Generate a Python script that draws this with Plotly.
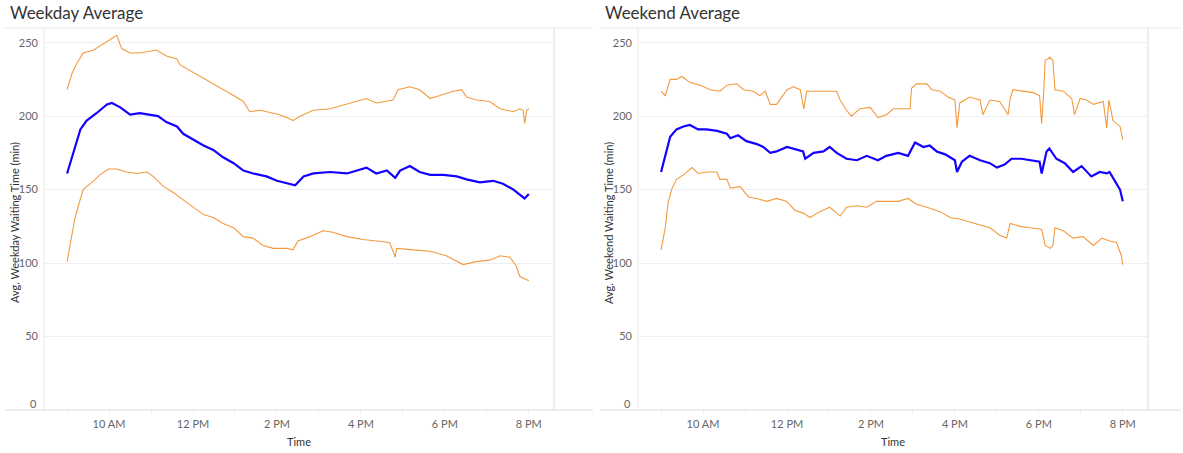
import plotly.graph_objects as go

# ---------------- data ----------------
wd_hi_t = ["09:00","09:07","09:14","09:23","09:38","09:52","10:04","10:11","10:18","10:30","10:44","11:08","11:22","11:37","11:41","11:56","12:10","12:29","12:43","12:58","13:12","13:21","13:36","13:55","14:04","14:14","14:23","14:33","14:52","15:16","15:40","16:08","16:22","16:46","16:53","17:10","17:24","17:39","17:53","18:12","18:24","18:31","18:45","19:04","19:19","19:38","19:47","19:52","19:54","19:57","20:00"]
wd_hi_v = [218,229,236,243,245,249,253,255,246,243,243,245,241,239,235,231,227,222,218,214,210,203,204,202,201,199,197,200,204,205,208,212,209,211,218,220,218,212,214,217,218,213,211,210,205,203,205,204,195,204,205]

wd_avg_t = ["09:00","09:07","09:14","09:19","09:28","09:42","09:57","10:04","10:16","10:30","10:44","10:59","11:10","11:22","11:37","11:46","12:00","12:15","12:29","12:43","12:58","13:12","13:26","13:45","14:00","14:19","14:26","14:38","14:52","15:16","15:40","16:08","16:22","16:37","16:49","16:56","17:10","17:24","17:39","17:58","18:17","18:31","18:50","19:09","19:23","19:38","19:54","20:00"]
wd_avg_v = [161,172,184,191,197,202,208,209,206,201,202,201,200,196,193,188,184,180,177,172,168,163,161,159,156,154,153,159,161,162,161,165,161,163,158,163,166,162,160,160,159,157,155,156,154,150,144,147]

wd_lo_t = ["09:00","09:07","09:11","09:16","09:23","09:38","09:47","09:59","10:11","10:25","10:40","10:54","11:03","11:18","11:32","11:46","12:00","12:15","12:29","12:43","12:58","13:12","13:26","13:40","13:55","14:14","14:23","14:30","14:47","15:06","15:20","15:40","16:03","16:27","16:41","16:49","16:51","17:15","17:39","18:02","18:26","18:45","19:04","19:19","19:33","19:42","19:47","20:00"]
wd_lo_v = [101,118,130,139,150,156,160,164,164,162,161,162,159,152,148,143,138,133,131,127,124,118,117,112,110,110,109,115,118,122,121,118,116,115,114,104,110,109,108,105,99,101,102,105,104,98,91,88]

we_hi_t = ["09:00","09:06","09:13","09:22","09:30","09:41","09:56","10:10","10:24","10:34","10:48","10:58","11:12","11:21","11:29","11:36","11:45","12:00","12:09","12:19","12:24","12:28","12:42","12:57","13:11","13:16","13:25","13:32","13:44","13:59","14:10","14:22","14:32","14:41","14:56","14:58","15:05","15:20","15:27","15:39","15:50","16:00","16:03","16:07","16:21","16:36","16:40","16:50","17:04","17:16","17:19","17:23","17:38","17:52","18:01","18:04","18:07","18:09","18:16","18:20","18:23","18:35","18:47","18:51","18:59","19:08","19:18","19:32","19:37","19:40","19:46","19:56","20:00"]
we_hi_v = [217,214,225,225,227,223,221,218,217,221,222,218,217,214,217,208,208,218,220,218,205,217,217,217,217,211,204,200,205,206,199,201,205,205,205,219,222,222,218,217,213,211,192,209,213,211,201,211,210,201,212,218,217,216,214,195,217,238,240,238,218,217,212,201,212,211,208,210,192,211,197,193,184]

we_avg_t = ["09:00","09:07","09:13","09:22","09:32","09:41","09:53","10:05","10:20","10:34","10:39","10:50","11:02","11:17","11:26","11:36","11:45","12:00","12:09","12:23","12:26","12:38","12:52","13:01","13:11","13:25","13:40","13:54","14:10","14:22","14:39","14:53","15:03","15:15","15:24","15:34","15:46","16:00","16:03","16:10","16:21","16:36","16:50","17:00","17:11","17:21","17:35","17:47","18:01","18:04","18:11","18:15","18:25","18:37","18:49","19:01","19:15","19:27","19:37","19:41","19:49","19:56","20:00"]
we_avg_v = [162,175,186,191,193,194,191,191,190,188,185,187,183,181,179,175,176,179,178,176,171,175,176,179,175,171,170,173,170,173,175,173,182,179,180,176,174,170,162,169,173,170,168,165,167,171,171,170,169,161,176,178,171,168,162,166,159,162,161,162,156,150,142]

we_lo_t = ["09:00","09:06","09:10","09:15","09:22","09:32","09:44","09:53","10:05","10:20","10:24","10:34","10:39","10:53","11:05","11:17","11:31","11:45","12:00","12:11","12:23","12:33","12:47","13:01","13:16","13:25","13:40","13:54","14:08","14:22","14:39","14:53","15:05","15:20","15:39","15:53","16:07","16:21","16:36","16:50","17:04","17:14","17:19","17:33","17:47","18:04","18:09","18:16","18:20","18:23","18:35","18:49","19:03","19:18","19:30","19:41","19:51","19:58","20:00"]
we_lo_v = [109,124,141,150,157,160,165,161,162,162,157,157,151,152,145,144,142,144,142,136,134,131,135,138,132,138,139,138,142,142,142,144,140,138,135,131,130,128,126,124,119,117,127,125,124,123,112,110,112,124,122,117,118,112,117,115,114,105,99]

x_ticks = ["09:00","10:00","11:00","12:00","13:00","14:00","15:00","16:00","17:00","18:00","19:00","20:00"]
x_tick_text = ["", "10 AM", "", "12 PM", "", "2 PM", "", "4 PM", "", "6 PM", "", "8 PM"]
y_ticks = [50, 100, 150, 200, 250]

DAY = "2024-01-01 "
def ts(lst):
    return [DAY + s for s in lst]

ORANGE = "#f39a3e"
BLUE = "#1400ff"
FONT = "Lato"
W, H = 1183, 453

fig = go.Figure()
panels = [
    ("x", "y", wd_hi_t, wd_hi_v, wd_avg_t, wd_avg_v, wd_lo_t, wd_lo_v),
    ("x2", "y2", we_hi_t, we_hi_v, we_avg_t, we_avg_v, we_lo_t, we_lo_v),
]
for xa, ya, ht, hv, at, av, lt, lv in panels:
    fig.add_trace(go.Scatter(x=ts(ht), y=hv, mode="lines", xaxis=xa, yaxis=ya,
                             line=dict(color=ORANGE, width=1.1), showlegend=False))
    fig.add_trace(go.Scatter(x=ts(lt), y=lv, mode="lines", xaxis=xa, yaxis=ya,
                             line=dict(color=ORANGE, width=1.1), showlegend=False))
    fig.add_trace(go.Scatter(x=ts(at), y=av, mode="lines", xaxis=xa, yaxis=ya,
                             line=dict(color=BLUE, width=2.2), showlegend=False))

def px(x):
    return x / W

def py(y):
    return 1 - y / H

ydom = [py(410), py(28)]
xr = [DAY + "08:27", DAY + "20:36"]

common_x = dict(type="date", range=xr, tickmode="array", tickvals=ts(x_ticks),
                ticktext=x_tick_text, ticks="outside", ticklen=4, tickcolor="#f0f0f0",
                showgrid=False, zeroline=False, showline=False,
                tickfont=dict(family=FONT, size=11, color="#666666"))
common_y = dict(range=[0, 260], tickmode="array", tickvals=y_ticks,
                showgrid=True, gridcolor="#efefef", gridwidth=1, zeroline=False,
                showline=False, ticks="", ticklabelstandoff=5,
                tickfont=dict(family=FONT, size=11, color="#666666"), domain=ydom)

fig.update_layout(
    width=W, height=H, margin=dict(l=0, r=0, t=0, b=0),
    paper_bgcolor="white", plot_bgcolor="white",
    font=dict(family=FONT),
    xaxis=dict(common_x, domain=[px(44), px(554)], anchor="y"),
    yaxis=dict(common_y, anchor="x"),
    xaxis2=dict(common_x, domain=[px(638), px(1148)], anchor="y2"),
    yaxis2=dict(common_y, anchor="x2"),
)

line_col = "#dcdcdc"
shapes = []
for (x0, x1, px_ax, px_r) in [(5, 593, 44, 554), (600, 1181, 638, 1148)]:
    shapes.append(dict(type="line", xref="paper", yref="paper", x0=px(x0), x1=px(x1),
                       y0=py(28), y1=py(28), line=dict(color="#e6e6e6", width=1)))
    shapes.append(dict(type="line", xref="paper", yref="paper", x0=px(x0), x1=px(x1),
                       y0=py(410), y1=py(410), line=dict(color=line_col, width=1)))
    shapes.append(dict(type="line", xref="paper", yref="paper", x0=px(px_ax), x1=px(px_ax),
                       y0=py(28), y1=py(410), line=dict(color="#e6e6e6", width=1)))
    shapes.append(dict(type="line", xref="paper", yref="paper", x0=px(px_r), x1=px(px_r),
                       y0=py(28), y1=py(410), line=dict(color=line_col, width=1)))
fig.update_layout(shapes=shapes)

ann = []
for title, ytitle, xtitle_x, ax_l, ax_r, yref in [
    ("Weekday Average", "Avg. Weekday Waiting Time (min)", 8, 44, 554, "y"),
    ("Weekend Average", "Avg. Weekend Waiting Time (min)", 603, 638, 1148, "y2"),
]:
    ann.append(dict(text=title, xref="paper", yref="paper", x=px(xtitle_x), y=py(12),
                    xanchor="left", yanchor="middle", showarrow=False,
                    font=dict(family=FONT, size=17, color="#333333")))
    ann.append(dict(text=ytitle, xref="paper", yref="paper", x=px(ax_l - 30), y=py(223),
                    xanchor="center", yanchor="middle", textangle=-90, showarrow=False,
                    font=dict(family=FONT, size=11, color="#333333")))
    ann.append(dict(text="Time", xref="paper", yref="paper", x=px((ax_l + ax_r) / 2), y=py(441),
                    xanchor="center", yanchor="middle", showarrow=False,
                    font=dict(family=FONT, size=11, color="#333333")))
    ann.append(dict(text="0", xref="paper", yref=yref, x=px(ax_l - 5), y=0, yshift=7,
                    xanchor="right", yanchor="middle", showarrow=False,
                    font=dict(family=FONT, size=11, color="#666666")))
fig.update_layout(annotations=ann)

fig.write_html("out.html", config={"displayModeBar": False},
               post_script="document.body.style.margin='0';document.body.style.padding='0';document.body.style.overflow='hidden';")
